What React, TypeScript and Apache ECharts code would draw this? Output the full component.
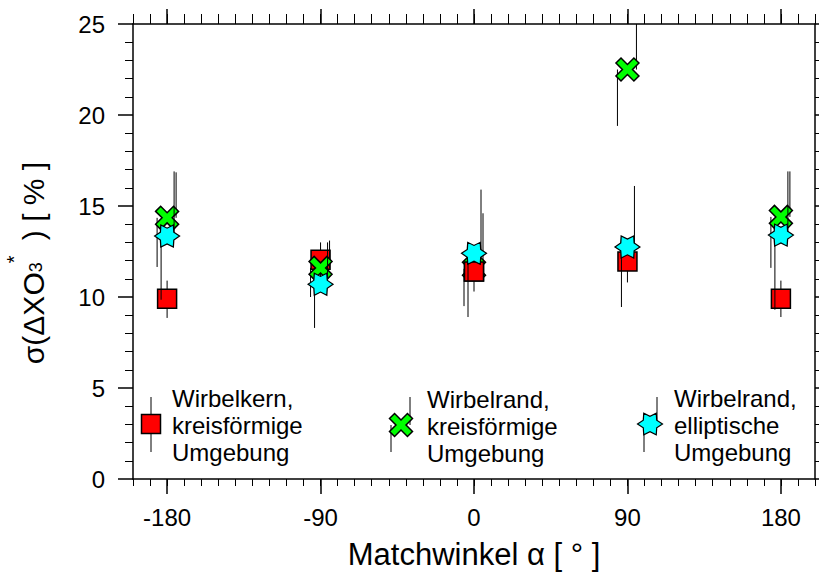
import React, { useEffect, useRef } from "react";
import * as echarts from "echarts";

// ---------- data ----------
const angles = [-180, -90, 0, 90, 180];
const xTickValues = [-180, -90, 0, 90, 180];

const kernValues = [9.9, 12.05, 11.4, 11.95, 9.9];
const kernLow = [8.85, 11.0, 10.3, 10.8, 8.9];
const kernHigh = [10.9, 13.0, 12.3, 12.9, 10.9];
// angles where the red square is drawn above the green cross
const kernOnTopAngles = [0];

const randKreisValues = [14.35, 11.6, 11.55, 22.5, 14.4];
const randKreisLow = [11.65, 10.0, 9.5, 19.4, 11.6];
const randKreisHigh = [16.85, 13.1, 14.6, 27.0, 16.9];

const randEllValues = [13.35, 10.7, 12.4, 12.75, 13.4];
const randEllLow = [9.85, 8.3, 8.9, 9.45, 9.3];
const randEllHigh = [16.9, 13.0, 15.9, 16.1, 16.9];

const legendLabels = [
  "Wirbelkern,\nkreisförmige\nUmgebung",
  "Wirbelrand,\nkreisförmige\nUmgebung",
  "Wirbelrand,\nelliptische\nUmgebung",
];

// ---------- shapes ----------
const X_UNIT: number[][] = [
  [0, 22], [22, 0], [50, 28], [78, 0], [100, 22], [72, 50],
  [100, 78], [78, 100], [50, 72], [22, 100], [0, 78], [28, 50],
].map((p) => [(p[0] - 50) / 50, (p[1] - 50) / 50]);

const STAR_UNIT: number[][] = Array.from({ length: 12 }, (_, k) => {
  const a = (k * Math.PI) / 6;
  const r = k % 2 === 0 ? 1 : 0.62;
  return [r * Math.cos(a), r * Math.sin(a)];
});

const toPath = (pts: number[][]) =>
  "path://" +
  pts.map((p, i) => (i ? "L" : "M") + (p[0] * 50).toFixed(2) + " " + (p[1] * 50).toFixed(2)).join(" ") +
  " Z";

const place = (pts: number[][], cx: number, cy: number, hw: number, hh: number) =>
  pts.map((p) => [cx + p[0] * hw, cy + p[1] * hh]);

const FONT = '"Liberation Sans", Arial, Helvetica, sans-serif';
const RED = "#ff0000";
const GREEN = "#00ff00";
const CYAN = "#00ffff";

function errSeries(
  idx: number[],
  vals: number[],
  lows: number[],
  highs: number[],
  dxUp: number,
  dxLow: number,
  z: number
) {
  return {
    type: "custom",
    silent: true,
    z,
    xAxisIndex: 0,
    yAxisIndex: 0,
    encode: { x: 0, y: 2 },
    data: idx.map((i) => [angles[i], lows[i], vals[i], highs[i]]),
    renderItem: (params: any, api: any) => {
      const x = api.value(0);
      const lo = api.coord([x, api.value(1)]);
      const mid = api.coord([x, api.value(2)]);
      const hi = api.coord([x, api.value(3)]);
      const cs = params.coordSys;
      const top = cs.y;
      const bot = cs.y + cs.height;
      const cl = (v: number) => Math.max(top, Math.min(bot, v));
      return {
        type: "group",
        children: [
          {
            type: "line",
            shape: { x1: mid[0] + dxUp, y1: cl(mid[1]), x2: mid[0] + dxUp, y2: cl(hi[1]) },
            style: { stroke: "#000", lineWidth: 1 },
          },
          {
            type: "line",
            shape: { x1: mid[0] + dxLow, y1: cl(mid[1]), x2: mid[0] + dxLow, y2: cl(lo[1]) },
            style: { stroke: "#000", lineWidth: 1 },
          },
        ],
      };
    },
  };
}

const allIdx = angles.map((_, i) => i);
const topIdx = allIdx.filter((i) => kernOnTopAngles.includes(angles[i]));

export default function App() {
  const ref = useRef<HTMLDivElement>(null);

  useEffect(() => {
    if (!ref.current) return;
    const chart = echarts.init(ref.current, null, { renderer: "svg" });

    // measure y title pieces
    const cvs = document.createElement("canvas");
    const ctx = cvs.getContext("2d")!;
    const measure = (t: string, fs: number) => {
      ctx.font = `${fs}px "Liberation Sans"`;
      return ctx.measureText(t).width;
    };
    const mainFs = 30;
    const subFs = 18;
    const supFs = 20;
    const p1 = "σ(ΔXO";
    const p2 = " ) [ % ]";
    const w1 = measure(p1, mainFs);
    const w3 = measure("3", subFs);
    const wS = measure("*", supFs);
    const w2 = measure(p2, mainFs);
    const gap = 6;
    const total = w1 + w3 + wS + gap + w2;
    const ySub = 3;
    const ySup = -19;

    const textCommon = { fontFamily: FONT, fill: "#000", verticalAlign: "middle", align: "left" };

    const legendX = [
      { sym: "rect", cx: 151, cy: 424, dxUp: 0, dxLow: 0, color: RED, tx: 172 },
      { sym: "x", cx: 401, cy: 425, dxUp: 9, dxLow: -10, color: GREEN, tx: 427 },
      { sym: "star", cx: 650, cy: 424, dxUp: 7, dxLow: -6, color: CYAN, tx: 674 },
    ];

    const legendGraphics: any[] = [];
    legendX.forEach((l, i) => {
      legendGraphics.push({
        type: "line",
        shape: { x1: l.cx + l.dxUp, y1: l.cy, x2: l.cx + l.dxUp, y2: 397 },
        style: { stroke: "#000", lineWidth: 1 },
      });
      legendGraphics.push({
        type: "line",
        shape: { x1: l.cx + l.dxLow, y1: l.cy, x2: l.cx + l.dxLow, y2: 452 },
        style: { stroke: "#000", lineWidth: 1 },
      });
      if (l.sym === "rect") {
        legendGraphics.push({
          type: "rect",
          shape: { x: l.cx - 9.5, y: l.cy - 9.5, width: 19, height: 19 },
          style: { fill: l.color, stroke: "#000", lineWidth: 1.5 },
        });
      } else if (l.sym === "x") {
        legendGraphics.push({
          type: "polygon",
          shape: { points: place(X_UNIT, l.cx, l.cy, 11.5, 11.5) },
          style: { fill: l.color, stroke: "#000", lineWidth: 1.5 },
        });
      } else {
        legendGraphics.push({
          type: "polygon",
          shape: { points: place(STAR_UNIT, l.cx, l.cy, 12.5, 12.5) },
          style: { fill: l.color, stroke: "#000", lineWidth: 1.2 },
        });
      }
      legendGraphics.push({
        type: "text",
        x: l.tx,
        y: l.cy + 1,
        style: { ...textCommon, text: legendLabels[i], fontSize: 24, lineHeight: 27 },
      });
    });

    const yTitle = {
      type: "group",
      x: 33,
      y: 263 + total / 2,
      rotation: Math.PI / 2,
      children: [
        { type: "text", x: 0, y: 0, style: { ...textCommon, text: p1, fontSize: mainFs } },
        { type: "text", x: w1, y: ySub, style: { ...textCommon, text: "3", fontSize: subFs } },
        { type: "text", x: w1 + w3 - 1, y: ySup, style: { ...textCommon, text: "*", fontSize: supFs } },
        { type: "text", x: w1 + w3 + wS + gap, y: 0, style: { ...textCommon, text: p2, fontSize: mainFs } },
      ],
    };

    const axisLineStyle = { color: "#000", width: 1.5 };

    const xBase = {
      type: "value",
      min: -200,
      max: 200,
      gridIndex: 0,
      splitLine: { show: false },
    };
    const yBase = {
      type: "value",
      min: 0,
      max: 25,
      interval: 5,
      splitLine: { show: false },
    };

    const scatterRed = (idx: number[], z: number) => ({
      type: "scatter",
      z,
      xAxisIndex: 0,
      yAxisIndex: 0,
      symbol: "rect",
      symbolSize: 19,
      itemStyle: { color: RED, borderColor: "#000", borderWidth: 1.5, opacity: 1 },
      data: idx.map((i) => [angles[i], kernValues[i]]),
    });

    const option: any = {
      animation: false,
      backgroundColor: "#fff",
      grid: { left: 133, right: 4, top: 24, bottom: 96, containLabel: false },
      xAxis: [
        {
          ...xBase,
          position: "bottom",
          interval: 10,
          axisLine: { show: true, onZero: false, lineStyle: axisLineStyle },
          axisTick: { show: true, length: 7, lineStyle: { color: "#000", width: 1 } },
          axisLabel: { show: false },
        },
        {
          ...xBase,
          position: "bottom",
          axisLine: { show: false, onZero: false },
          axisTick: {
            show: true,
            length: 15,
            customValues: xTickValues,
            lineStyle: { color: "#000", width: 1.5 },
          },
          axisLabel: {
            show: true,
            customValues: xTickValues,
            margin: 26,
            fontSize: 24,
            color: "#000",
            fontFamily: FONT,
          },
          name: "Matchwinkel α [ ° ]",
          nameLocation: "middle",
          nameGap: 60,
          nameTextStyle: { fontSize: 31, color: "#000", fontFamily: FONT },
        },
        {
          ...xBase,
          position: "top",
          interval: 10,
          axisLine: { show: true, onZero: false, lineStyle: axisLineStyle },
          axisTick: { show: true, length: 10, lineStyle: { color: "#000", width: 1 } },
          axisLabel: { show: false },
        },
        {
          ...xBase,
          position: "top",
          axisLine: { show: false, onZero: false },
          axisTick: {
            show: true,
            length: 15,
            customValues: xTickValues,
            lineStyle: { color: "#000", width: 1.5 },
          },
          axisLabel: { show: false },
        },
      ],
      yAxis: [
        {
          ...yBase,
          position: "left",
          axisLine: { show: true, onZero: false, lineStyle: axisLineStyle },
          axisTick: { show: true, length: 15, lineStyle: { color: "#000", width: 1.5 } },
          minorTick: { show: true, splitNumber: 5, length: 8, lineStyle: { color: "#000", width: 1 } },
          axisLabel: { show: true, margin: 28, fontSize: 24, color: "#000", fontFamily: FONT },
        },
        {
          ...yBase,
          position: "right",
          axisLine: { show: true, onZero: false, lineStyle: axisLineStyle },
          axisTick: { show: true, length: 10, lineStyle: { color: "#000", width: 1.5 } },
          minorTick: { show: true, splitNumber: 5, length: 8, lineStyle: { color: "#000", width: 1 } },
          axisLabel: { show: false },
        },
      ],
      series: [
        errSeries(allIdx, kernValues, kernLow, kernHigh, 0, 0, 2),
        scatterRed(allIdx, 3),
        errSeries(allIdx, randKreisValues, randKreisLow, randKreisHigh, 9, -10, 4),
        {
          type: "scatter",
          z: 5,
          xAxisIndex: 0,
          yAxisIndex: 0,
          symbol: toPath(X_UNIT),
          symbolSize: 23,
          itemStyle: { color: GREEN, borderColor: "#000", borderWidth: 1.5, opacity: 1 },
          data: angles.map((a, i) => [a, randKreisValues[i]]),
        },
        scatterRed(topIdx, 5.5),
        errSeries(allIdx, randEllValues, randEllLow, randEllHigh, 7, -6, 6),
        {
          type: "scatter",
          z: 7,
          xAxisIndex: 0,
          yAxisIndex: 0,
          symbol: toPath(STAR_UNIT),
          symbolSize: [25, 22],
          itemStyle: { color: CYAN, borderColor: "#000", borderWidth: 1.2, opacity: 1 },
          data: angles.map((a, i) => [a, randEllValues[i]]),
        },
      ],
      graphic: [...legendGraphics, yTitle],
    };

    chart.setOption(option);
    return () => chart.dispose();
  }, []);

  return (
    <div
      ref={ref}
      style={{ position: "fixed", left: 0, top: 0, width: 819, height: 575, background: "#fff" }}
    />
  );
}
